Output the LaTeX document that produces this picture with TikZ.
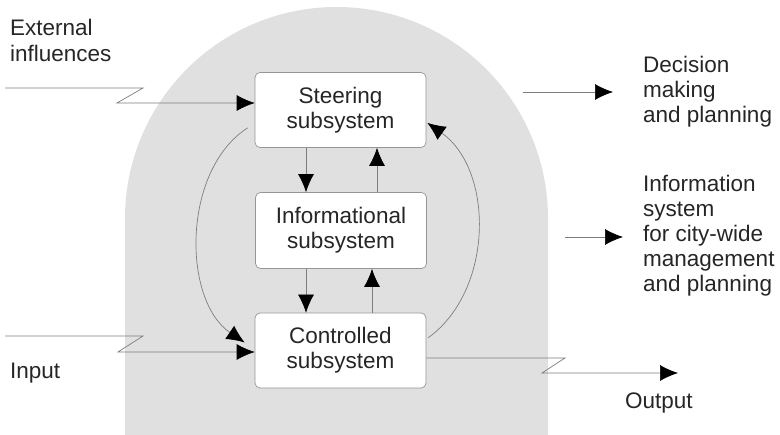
\documentclass[tikz,border=0pt]{standalone}
\usepackage{fontspec}
\setmainfont{Liberation Sans}
\usetikzlibrary{arrows.meta}
\definecolor{archgray}{RGB}{224,224,224}
\definecolor{linegray}{RGB}{125,125,125}
\definecolor{boxline}{RGB}{150,150,150}
\definecolor{inkgray}{RGB}{38,38,38}
\begin{document}
\begin{tikzpicture}[x=1pt,y=-1pt,
  label/.style={font=\fontsize{22.5}{25}\selectfont, text=inkgray, align=left, inner sep=0pt},
  subsys/.style={draw=boxline, fill=white, rounded corners=5pt, line width=0.7pt,
    minimum width=171pt, inner sep=0pt, align=center, text=inkgray,
    font=\fontsize{22.5}{25}\selectfont},
  flow/.style={draw=linegray, line width=0.7pt,
    -{Latex[length=18pt,width=16pt,color=black]}}
]
\useasboundingbox (0,0) rectangle (780,435);

% grey arched background
\fill[archgray] (125,435) -- (125,218.5)
  arc[start angle=180,end angle=0,radius=211.5pt] -- (548,435) -- cycle;

% the three subsystems
\node[subsys, minimum height=75pt] (steer) at (340.5,110) {Steering\\subsystem};
\node[subsys, minimum height=76pt] (info)  at (341,230.5) {Informational\\subsystem};
\node[subsys, minimum height=75pt] (ctrl)  at (340.5,350.5) {Controlled\\subsystem};

% outside labels
\node[label, font=\fontsize{22.5}{26.5}\selectfont, anchor=north west] (extlbl) at (10,19) {External\\influences};
\node[label, anchor=north west] (inlbl)  at (10,363) {Input};
\node[label, anchor=north west] (outlbl) at (625,393) {Output};
\node[label, anchor=north west] (declbl) at (643,56) {Decision\\making\\and planning};
\node[label, anchor=north west] (islbl)  at (643,175) {Information\\system\\for city-wide\\management\\and planning};

% vertical exchanges between subsystems
\coordinate (dn) at (306,0);
\coordinate (upA) at (377,0);
\coordinate (upB) at (372,0);
\draw[flow] (steer.south -| dn) -- (info.north -| dn);
\draw[flow] (info.north -| upA) -- (steer.south -| upA);
\draw[flow] (info.south -| dn) -- (ctrl.north -| dn);
\draw[flow] (ctrl.north -| upB) -- (info.south -| upB);

% feedback loops
\draw[flow] ([xshift=-7pt,yshift=20pt]steer.south west)
  .. controls (182,170) and (182,300) .. ([xshift=-10pt,yshift=8pt]ctrl.west);
\draw[flow] ([xshift=2pt,yshift=-25pt]ctrl.north east)
  .. controls (494,290) and (494,170) .. ([xshift=1pt,yshift=25pt]steer.south east);

% external influences and input, with break marks
\coordinate (e0) at (5,88);  \coordinate (e1) at (143,88);  \coordinate (e2) at (117,103);
\draw[flow] (e0) -- (e1) -- (e2) -- (steer.west |- e2);
\coordinate (i0) at (5,336); \coordinate (i1) at (143,336); \coordinate (i2) at (118,352);
\draw[flow] (i0) -- (i1) -- (i2) -- (ctrl.west |- i2);

% output
\coordinate (o1) at (565,358); \coordinate (o2) at (542,373); \coordinate (o3) at (678,373);
\draw[flow] (ctrl.east |- o1) -- (o1) -- (o2) -- (o3);

% results
\coordinate (d0) at (523,92);  \coordinate (d1) at (613,92);
\draw[flow] (d0) -- (d1);
\coordinate (s0) at (565,237); \coordinate (s1) at (623,237);
\draw[flow] (s0) -- (s1);
\end{tikzpicture}
\end{document}
